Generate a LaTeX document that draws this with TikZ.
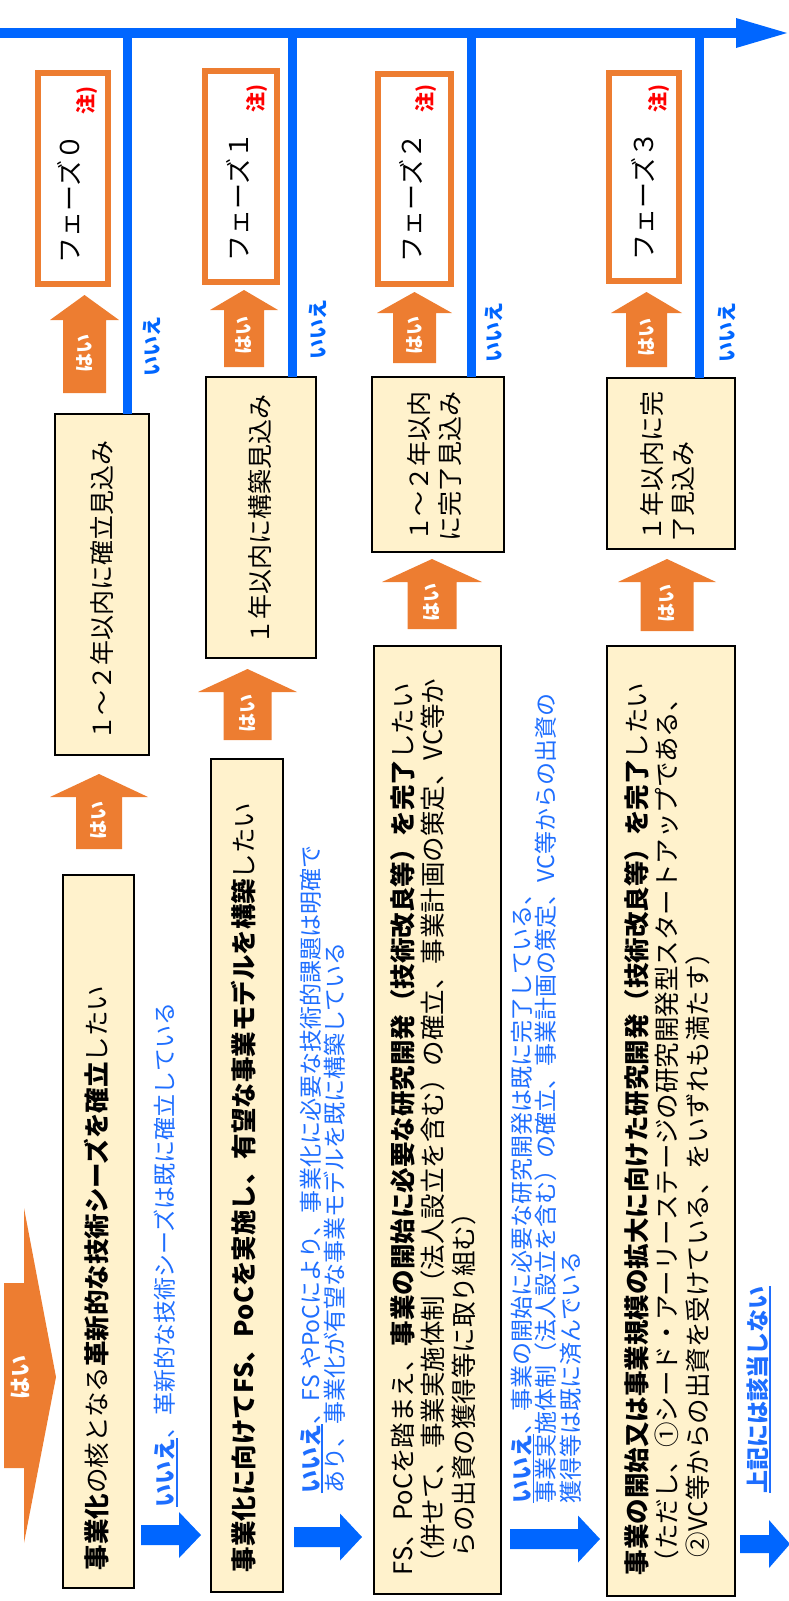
\documentclass[tikz,border=0pt]{standalone}
\usepackage{fontspec}
\setmainfont{Noto Sans CJK JP}
\usetikzlibrary{calc}
\definecolor{bluec}{RGB}{0,102,255}
\definecolor{bluet}{RGB}{30,110,255}
\definecolor{orangec}{RGB}{237,125,49}
\definecolor{creamc}{RGB}{255,242,204}
\definecolor{redc}{RGB}{255,0,0}
\newcommand{\fsBox}{\fontsize{25.5}{30.5}\selectfont}
\newcommand{\fsB}{\fontsize{25}{31}\selectfont}
\newcommand{\fsBlue}{\fontsize{23}{24.5}\selectfont}
\newcommand{\fsPh}{\fontsize{26}{30}\selectfont}
\newcommand{\fsHai}{\fontsize{19}{22}\selectfont}
\newcommand{\fsIie}{\fontsize{20}{24}\selectfont}
\newcommand{\fsNote}{\fontsize{20}{24}\selectfont}
\newcommand{\myul}[1]{\setbox0\hbox{#1}\rlap{\rule[-4pt]{\wd0}{1.6pt}}\box0}
\tikzset{
  rt/.style={rotate=90, inner sep=0pt, outer sep=0pt},
  creambox/.style={draw=black, line width=2pt, fill=creamc, inner sep=0pt, outer sep=0pt},
  phasebox/.style={draw=orangec, line width=6pt, fill=white, inner sep=0pt, outer sep=0pt},
  vline/.style={draw=bluec, line width=9pt},
  hai/.style={rt, text=white, font=\fsHai\bfseries},
  iie/.style={rt, text=bluec, font=\fsIie\bfseries},
  bluetext/.style={rt, anchor=west, text=bluet, font=\fsBlue, align=left},
  boxtext/.style={rt, anchor=west, text=black, font=\fsBox, align=left},
  btext/.style={rt, text=black, font=\fsB, align=left},
  phtext/.style={rt, text=black, font=\fsPh},
  note/.style={rt, text=redc, font=\fsNote\bfseries},
}
% name, cx, shaft half, head half, tip y, head base y, bottom y
\newcommand{\uparr}[7]{%
  \fill[orangec] ({#2-#3},#7) -- ({#2-#3},#6) -- ({#2-#4},#6) -- (#2,#5) -- ({#2+#4},#6) -- ({#2+#3},#6) -- ({#2+#3},#7) -- cycle;
  \node[hai] (#1) at (#2,{(#6+#7)/2-3}) {はい};}
% x0, head base x, tip x, cy, shaft half, head half
\newcommand{\rarr}[6]{%
  \fill[bluec] (#1,{#4-#5}) -- (#2,{#4-#5}) -- (#2,{#4-#6}) -- (#3,#4) -- (#2,{#4+#6}) -- (#2,{#4+#5}) -- (#1,{#4+#5}) -- cycle;}
\begin{document}
\begin{tikzpicture}[x=1pt,y=-1pt]
\useasboundingbox (0,0) rectangle (789,1601);
% top axis
\coordinate (axL) at (0,33);
\coordinate (axE) at (738,33);
\draw[draw=bluec, line width=9.5pt] (axL) -- (axE);
\fill[bluec] (736,18) -- (787,33) -- (736,48) -- cycle;
% upper cream boxes
\node[creambox, minimum width=94, minimum height=341] (B0) at (102,584.5) {};
\node[creambox, minimum width=110, minimum height=281] (B1) at (261,517.5) {};
\node[creambox, minimum width=132, minimum height=175] (B2) at (438,464.5) {};
\node[creambox, minimum width=128, minimum height=171] (B3) at (671,463.5) {};
% lower cream boxes
\node[creambox, minimum width=71, minimum height=713] (C0) at (98.5,1231.5) {};
\node[creambox, minimum width=72, minimum height=833] (C1) at (247,1175.5) {};
\node[creambox, minimum width=127, minimum height=948] (C2) at (437.5,1120) {};
\node[creambox, minimum width=128, minimum height=950] (C3) at (671,1121) {};
% phase boxes
\node[phasebox, minimum width=70, minimum height=211] (P0) at (73,178.5) {};
\node[phasebox, minimum width=72, minimum height=211] (P1) at (241,176.5) {};
\node[phasebox, minimum width=73, minimum height=210] (P2) at (414.5,179) {};
\node[phasebox, minimum width=70, minimum height=208] (P3) at (644,177) {};
% vertical lines to the axis
\coordinate (v0) at ($(B0.north west)!0.77!(B0.north east)$);
\coordinate (v1) at ($(B1.north west)!0.79!(B1.north east)$);
\coordinate (v2) at ($(B2.north west)!0.75!(B2.north east)$);
\coordinate (v3) at ($(B3.north west)!0.72!(B3.north east)$);
\draw[vline] (v0) -- (v0 |- axL);
\draw[vline] (v1) -- (v1 |- axL);
\draw[vline] (v2) -- (v2 |- axL);
\draw[vline] (v3) -- (v3 |- axL);
% orange up arrows
\uparr{A0}{84.5}{21.5}{34.5}{295}{320}{393}
\uparr{A1}{244}{20}{34}{290}{310}{367}
\uparr{A2}{414.5}{21.5}{37.5}{292}{313}{363}
\uparr{A3}{646.5}{20.5}{35.5}{292}{313}{367}
\uparr{A4}{432}{24.5}{50}{559}{582}{629}
\uparr{A5}{667}{26.5}{49}{559}{582}{631}
\uparr{A6}{247.5}{24}{49.5}{669}{692}{740}
\uparr{A7}{99}{23}{49}{774}{797}{849}
% big orange arrow
\fill[orangec] (4,1283) -- (24,1283) -- (24,1208) -- (56,1377) -- (24,1543) -- (24,1468) -- (4,1468) -- cycle;
\node[rt, text=white, font=\fontsize{22}{24}\selectfont\bfseries] (Hbig) at (20,1377) {はい};
% blue right arrows
\rarr{141}{179}{201}{1535}{10}{23}
\rarr{294}{340}{362}{1537}{10}{23.5}
\rarr{510}{578}{600}{1539}{10}{23.5}
\rarr{740}{769}{790}{1544}{9}{24}
% phase texts
\node[phtext] (P0t) at (69,199) {フェーズ０};
\node[phtext] (P1t) at (238,197) {フェーズ１};
\node[phtext] (P2t) at (411,198) {フェーズ２};
\node[phtext] (P3t) at (643,196) {フェーズ３};
\node[note] (P0n) at (87,100) {注)};
\node[note] (P1n) at (257,98) {注)};
\node[note] (P2n) at (426,98) {注)};
\node[note] (P3n) at (659,98) {注)};
% iie labels
\node[iie] (I0) at (152,346) {いいえ};
\node[iie] (I1) at (318,329) {いいえ};
\node[iie] (I2) at (494,332) {いいえ};
\node[iie] (I3) at (727,332) {いいえ};
% upper box texts
\node[btext] (B0t) at (102,590) {１～２年以内に確立見込み};
\node[btext] (B1t) at (260,519) {１年以内に構築見込み};
\node[btext, anchor=west] (B2t) at (434,541) {１～２年以内\\に完了見込み};
\node[btext, anchor=west] (B3t) at (667,541) {１年以内に完\\了見込み};
% lower box texts
\node[boxtext] (C0t) at (97,1570) {\textbf{事業化}の核となる\textbf{革新的な技術シーズを確立}したい};
\node[boxtext] (C1t) at (244,1572) {\textbf{事業化に向けてFS、PoCを実施し、有望な事業モデルを構築}したい};
\node[boxtext] (C2t) at (433,1575) {FS、PoCを踏まえ、\textbf{事業の開始に必要な研究開発（技術改良等）を完了}したい\\（併せて、事業実施体制（法人設立を含む）の確立、事業計画の策定、VC等か\\\hspace*{0.7em}らの出資の獲得等に取り組む）};
\node[boxtext] (C3t) at (667,1575) {\textbf{事業の開始又は事業規模の拡大に向けた研究開発（技術改良等）を完了}したい\\（ただし、①シード・アーリーステージの研究開発型スタートアップである、\\\hspace*{0.7em}②VC等からの出資を受けている、をいずれも満たす）};
% blue texts
\node[bluetext] (T0) at (166,1507) {\myul{\textbf{いいえ}}、革新的な技術シーズは既に確立している};
\node[bluetext] (T1) at (322.5,1493) {\myul{\textbf{いいえ}}、FS やPoCにより、事業化に必要な技術的課題は明確で\\あり、事業化が有望な事業モデルを既に構築している};
\node[bluetext] (T2) at (546,1503) {\myul{\textbf{いいえ}}、事業の開始に必要な研究開発は既に完了している、\\事業実施体制（法人設立を含む）の確立、事業計画の策定、VC等からの出資の\\獲得等は既に済んでいる};
\node[bluetext, font=\fsBlue\bfseries] (U) at (759,1493) {\myul{上記には該当しない}};
\end{tikzpicture}
\end{document}
